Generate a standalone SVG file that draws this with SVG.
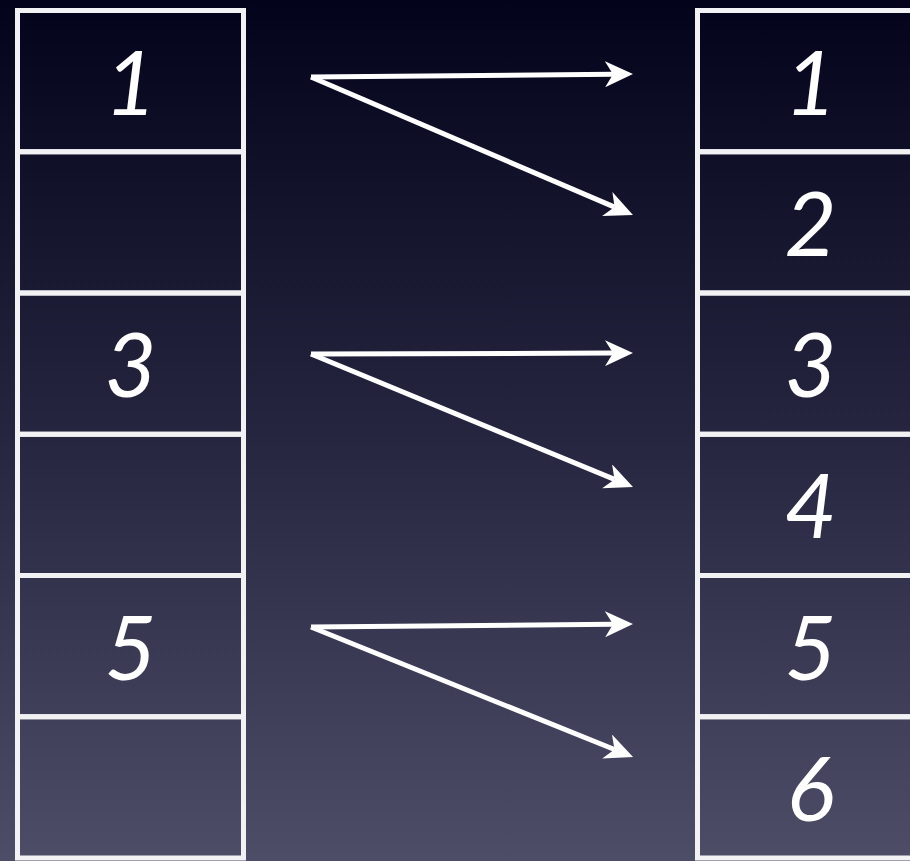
<svg xmlns="http://www.w3.org/2000/svg" width="910" height="861" viewBox="0 0 910 861">
  <defs>
    <linearGradient id="bg" x1="0" y1="0" x2="0" y2="1">
      <stop offset="0" stop-color="#03031b"/>
      <stop offset="0.5" stop-color="#25253f"/>
      <stop offset="1" stop-color="#4d4d67"/>
    </linearGradient>
    <marker id="ah" viewBox="0 0 28 26" refX="8" refY="13" markerWidth="28" markerHeight="26" markerUnits="userSpaceOnUse" orient="auto">
      <path d="M0,0 L28,13 L0,26 L8,13 Z" fill="#ffffff"/>
    </marker>
    <style>
      .cell { fill: none; stroke: #f2f2f4; stroke-width: 5; }
      .num { font-family: Lato, "Open Sans", "DejaVu Sans", sans-serif; font-style: italic; font-size: 90px; fill: #ffffff; text-anchor: middle; }
      .arr { fill: none; stroke: #ffffff; stroke-width: 5; marker-end: url(#ah); }
    </style>
  </defs>
  <rect x="0" y="0" width="910" height="861" fill="url(#bg)"/>

  <g id="left-1"><rect class="cell" x="17.5" y="10.5" width="226" height="141.25"/><text class="num" x="130.5" y="114.5">1</text></g>
  <g id="left-2"><rect class="cell" x="17.5" y="151.75" width="226" height="141.25"/></g>
  <g id="left-3"><rect class="cell" x="17.5" y="293" width="226" height="141.25"/><text class="num" x="130.5" y="397">3</text></g>
  <g id="left-4"><rect class="cell" x="17.5" y="434.25" width="226" height="141.25"/></g>
  <g id="left-5"><rect class="cell" x="17.5" y="575.5" width="226" height="141.25"/><text class="num" x="130.5" y="679.5">5</text></g>
  <g id="left-6"><rect class="cell" x="17.5" y="716.75" width="226" height="141.25"/></g>

  <g id="right-1"><rect class="cell" x="697.5" y="10.5" width="226" height="141.25"/><text class="num" x="810.5" y="114.5">1</text></g>
  <g id="right-2"><rect class="cell" x="697.5" y="151.75" width="226" height="141.25"/><text class="num" x="810.5" y="255.5">2</text></g>
  <g id="right-3"><rect class="cell" x="697.5" y="293" width="226" height="141.25"/><text class="num" x="810.5" y="397">3</text></g>
  <g id="right-4"><rect class="cell" x="697.5" y="434.25" width="226" height="141.25"/><text class="num" x="810.5" y="538">4</text></g>
  <g id="right-5"><rect class="cell" x="697.5" y="575.5" width="226" height="141.25"/><text class="num" x="810.5" y="679.5">5</text></g>
  <g id="right-6"><rect class="cell" x="697.5" y="716.75" width="226" height="141.25"/><text class="num" x="810.5" y="821">6</text></g>

  <g id="connectors">
    <line class="arr" x1="311" y1="77" x2="613" y2="74.2"/>
    <line class="arr" x1="311" y1="77" x2="614.6" y2="207.1"/>
    <line class="arr" x1="311" y1="354" x2="613" y2="353.1"/>
    <line class="arr" x1="311" y1="354" x2="614.5" y2="479.4"/>
    <line class="arr" x1="311" y1="627" x2="613" y2="624.2"/>
    <line class="arr" x1="311" y1="627" x2="614.5" y2="749.5"/>
  </g>
</svg>
